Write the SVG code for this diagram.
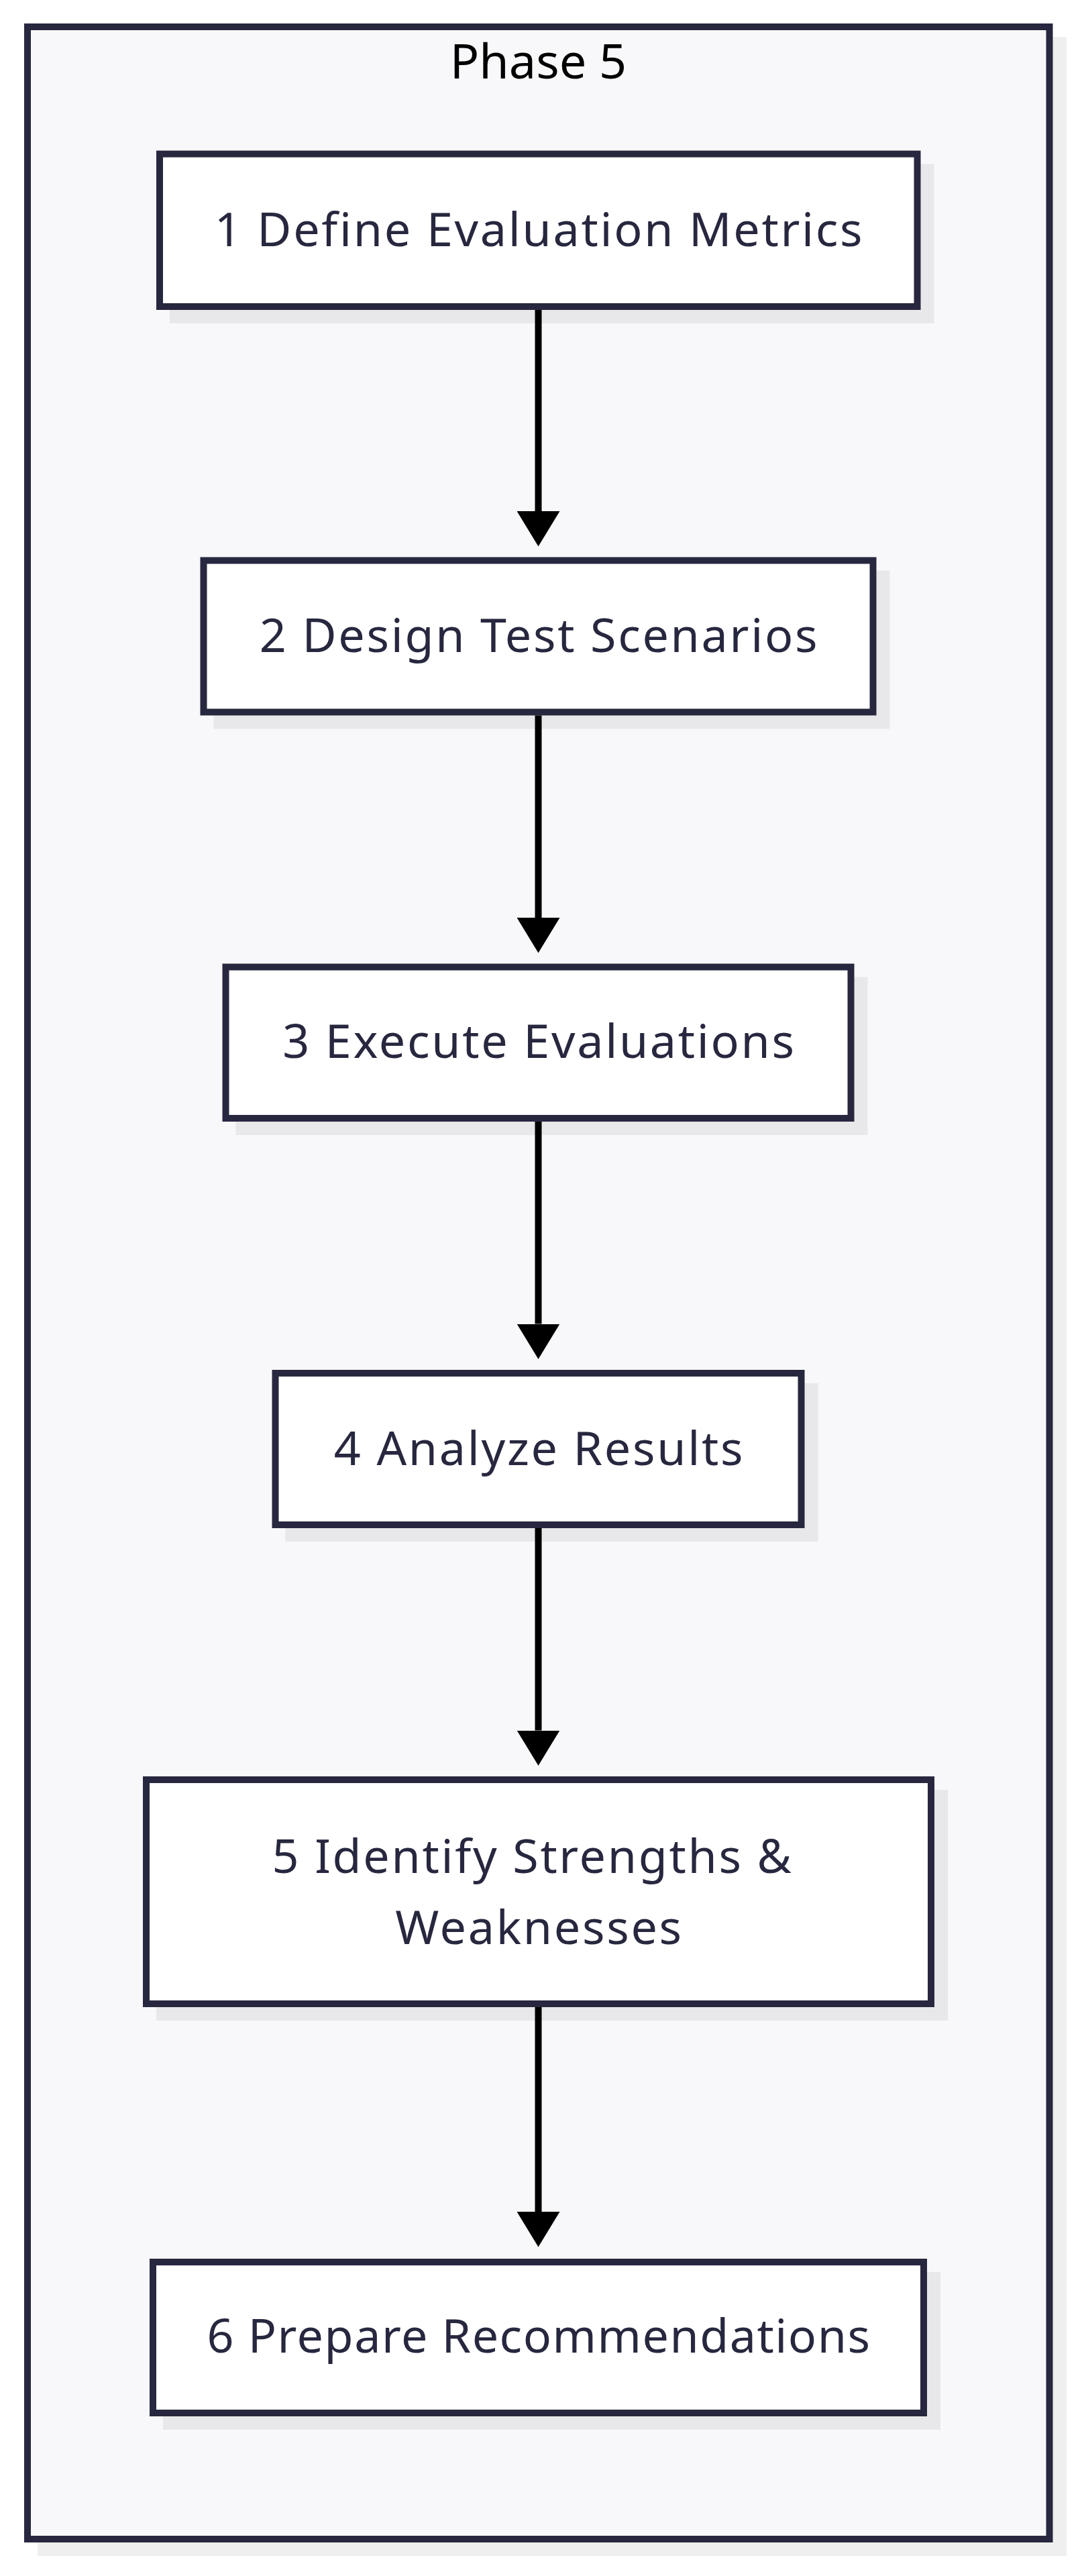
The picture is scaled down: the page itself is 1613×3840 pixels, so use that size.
<svg xmlns="http://www.w3.org/2000/svg" width="1613" height="3840" viewBox="0 0 1613 3840">
  <style>
    .shadow { fill: #000000; fill-opacity: 0.063; }
    .frame { fill: #f8f8fa; stroke: #27273f; stroke-width: 10; }
    .node { fill: #ffffff; stroke: #27273f; stroke-width: 10; }
    .label { font-family: "Noto Sans", "Open Sans", sans-serif; font-size: 70px; fill: #27273f; text-anchor: middle; letter-spacing: 2.7px; }
    .tight { letter-spacing: 1.5px; }
    .title { font-family: "Noto Sans", "Open Sans", sans-serif; font-size: 72px; fill: #000000; text-anchor: middle; }
    .edge { fill: none; stroke: #000000; stroke-width: 10; }
  </style>
  <defs>
    <marker id="arrow" markerUnits="userSpaceOnUse" markerWidth="53" markerHeight="64" viewBox="0 0 53 64" refX="0" refY="32" orient="auto">
      <path d="M0,0 L52.5,32 L0,64 Z" fill="#000000"/>
    </marker>
  </defs>
  <rect width="1613" height="3840" fill="#ffffff"/>
  <g id="phase5">
    <rect class="shadow" x="56" y="55" width="1534" height="3755"/>
    <rect class="frame" x="41" y="40" width="1523.5" height="3745"/>
    <text class="title" x="802.5" y="116.5">Phase 5</text>
  </g>
  <g id="node1">
    <rect class="shadow" x="253" y="244.5" width="1139.5" height="237.5"/>
    <rect class="node" x="238" y="229.5" width="1129.5" height="227.5"/>
    <text class="label" x="804" y="366.5">1 Define Evaluation Metrics</text>
  </g>
  <g id="node2">
    <rect class="shadow" x="318.5" y="850.5" width="1008" height="236"/>
    <rect class="node" x="303.5" y="835.5" width="998" height="226"/>
    <text class="label" x="804" y="972">2 Design Test Scenarios</text>
  </g>
  <g id="node3">
    <rect class="shadow" x="351.5" y="1456.5" width="942" height="235.5"/>
    <rect class="node" x="336.5" y="1441.5" width="932" height="225.5"/>
    <text class="label" x="804" y="1577">3 Execute Evaluations</text>
  </g>
  <g id="node4">
    <rect class="shadow" x="425.5" y="2062" width="794" height="236"/>
    <rect class="node" x="410.5" y="2047" width="784" height="226"/>
    <text class="label" x="804" y="2183.5">4 Analyze Results</text>
  </g>
  <g id="node5">
    <rect class="shadow" x="233" y="2668" width="1180" height="344"/>
    <rect class="node" x="218" y="2653" width="1170" height="334"/>
    <text class="label" x="794" y="2791.5">5 Identify Strengths &amp;</text>
    <text class="label" x="804" y="2898">Weaknesses</text>
  </g>
  <g id="node6">
    <rect class="shadow" x="243" y="3387" width="1159" height="235"/>
    <rect class="node" x="228" y="3372" width="1149" height="225"/>
    <text class="label tight" x="803.5" y="3507">6 Prepare Recommendations</text>
  </g>
  <g id="connectors">
    <line class="edge" x1="802.5" y1="462" x2="802.5" y2="762" marker-end="url(#arrow)"/>
    <line class="edge" x1="802.5" y1="1066.5" x2="802.5" y2="1368" marker-end="url(#arrow)"/>
    <line class="edge" x1="802.5" y1="1672" x2="802.5" y2="1973.5" marker-end="url(#arrow)"/>
    <line class="edge" x1="802.5" y1="2278" x2="802.5" y2="2579.5" marker-end="url(#arrow)"/>
    <line class="edge" x1="802.5" y1="2992" x2="802.5" y2="3297" marker-end="url(#arrow)"/>
  </g>
</svg>
